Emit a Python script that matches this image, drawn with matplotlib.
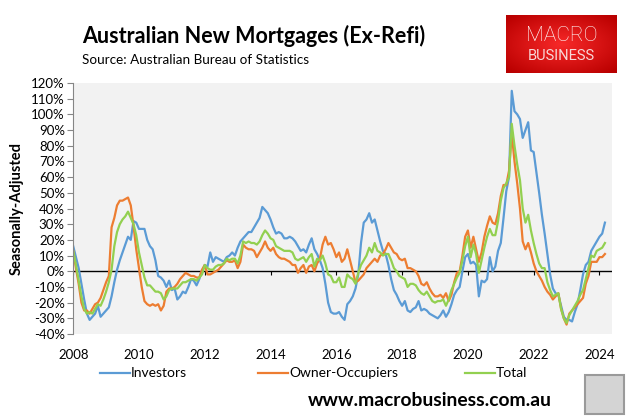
import numpy as np
import matplotlib
matplotlib.use('Agg')
import matplotlib.pyplot as plt
from matplotlib.patches import Rectangle
from matplotlib.lines import Line2D

# annual growth, %, monthly from Jan 2008 to Mar 2024
investors = [
    16, 9, 2, -8, -18, -27, -31, -29, -27, -22, -29, -27,
    -25, -23, -16, -7, 1, 7, 12, 17, 22, 20, 32, 31,
    27, 27, 27, 20, 16, 14, 7, -3, -4, -6, -10, -6,
    -12, -11, -18, -16, -13, -14, -10, -5, -6, -9, -5, 0,
    4, 3, 12, 6, 9, 8, 7, 6, 9, 10, 12, 10,
    15, 19, 21, 23, 25, 25, 28, 31, 34, 41, 39, 37,
    33, 28, 24, 25, 24, 21, 21, 22, 21, 19, 16, 13,
    14, 12, 17, 21, 14, 11, 7, 2, -8, -20, -26, -27,
    -27, -26, -29, -31, -21, -19, -16, -11, -2, 18, 31, 33,
    37, 31, 33, 26, 19, 13, 11, 4, -5, -12, -15, -19,
    -22, -19, -25, -26, -24, -23, -19, -25, -24, -25, -27, -28,
    -29, -30, -28, -25, -29, -26, -21, -15, -12, -10, 0, 9,
    11, 5, 6, 4, -16, -6, -7, -5, 9, 0, 3, 13,
    18, 34, 51, 60, 115, 102, 100, 97, 85, 90, 95, 77,
    76, 63, 50, 36, 24, 11, -2, -11, -14, -15, -22, -29,
    -31, -31, -32, -26, -21, -12, -2, 4, 6, 13, 16, 19,
    22, 24, 31]

owner_occupiers = [
    13, 2, -8, -20, -25, -25, -27, -24, -21, -20, -17, -12,
    -7, -3, 28, 34, 42, 45, 45, 46, 47, 42, 29, 14,
    2, -10, -19, -21, -22, -21, -22, -21, -25, -22, -13, -11,
    -11, -10, -8, -5, -3, -1, -2, -3, -3, -4, -4, 1,
    4, -2, -2, -1, 0, 1, 3, 5, 7, 6, 6, 7,
    2, 6, 17, 15, 14, 14, 13, 9, 12, 15, 19, 15,
    13, 15, 11, 9, 8, 8, 7, 6, 4, 4, -1, 2,
    4, -1, 3, 4, 0, 5, 8, 17, 22, 17, 18, 14,
    9, 12, 6, 8, 14, 7, 0, -7, -6, -4, -2, 2,
    4, 6, 8, 6, 10, 11, 14, 18, 15, 12, 11, 8,
    7, 8, 2, 2, 1, 0, -3, -8, -9, -7, -11, -14,
    -16, -16, -15, -17, -14, -19, -15, -7, -1, 0, 10, 22,
    26, 15, 22, 14, 6, 12, 22, 29, 35, 31, 30, 37,
    48, 55, 55, 64, 88, 70, 56, 40, 19, 14, 18, 12,
    5, 0, -3, -6, -10, -13, -15, -18, -16, -14, -24, -30,
    -34, -27, -25, -23, -21, -19, -17, -8, -3, 6, 6, 6,
    9, 9, 11]

total = [
    13, 4, -6, -16, -24, -27, -26, -27, -24, -21, -22, -18,
    -13, -7, 1, 16, 25, 30, 33, 35, 38, 34, 30, 23,
    12, 4, -4, -9, -9, -11, -13, -13, -14, -18, -16, -12,
    -11, -11, -11, -9, -7, -7, -6, -5, -5, -6, -4, -2,
    4, 2, 1, 1, 3, 4, 4, 5, 8, 7, 8, 8,
    5, 10, 19, 18, 19, 18, 18, 17, 19, 23, 26, 24,
    21, 20, 16, 15, 14, 13, 13, 13, 12, 8, 7, 8,
    9, 6, 9, 11, 3, 8, 7, 10, 5, -2, -3, -7,
    -7, -4, -10, -10, -2, -4, -5, -8, -1, 4, 7, 10,
    15, 12, 18, 13, 12, 10, 11, 11, 7, 2, 0, -3,
    -4, -5, -10, -8, -8, -9, -12, -14, -15, -13, -16, -19,
    -20, -19, -19, -18, -22, -18, -12, -8, -4, -1, 7, 16,
    22, 9, 17, 11, -1, 7, 15, 22, 27, 23, 23, 32,
    45, 53, 56, 60, 94, 80, 68, 58, 40, 31, 36, 26,
    18, 11, 5, 2, 2, -7, -12, -16, -15, -14, -24, -30,
    -33, -28, -25, -22, -19, -15, -12, -5, 2, 10, 9, 13,
    14, 15, 18]

years = [str(y) for y in range(2008, 2025, 2)]
yticks = list(range(-40, 121, 10))

plt.rcParams['font.family'] = ['Lato', 'DejaVu Sans']

W, H = 631, 417
fig = plt.figure(figsize=(W / 100, H / 100), dpi=100)
ax = fig.add_axes([0.116, 0.199, 0.854, 0.602])
ax.set_facecolor('#f2f2f2')

colors = ['#5b9bd5', '#ed7d31', '#92d050']
names = ['Investors', 'Owner-Occupiers', 'Total']
m = np.arange(len(investors))
for s, c in zip([investors, owner_occupiers, total], colors):
    ax.plot(m, s, color=c, lw=1.6)

ax.axhline(0, color='black', lw=1.0, zorder=1)
xt = np.arange(0, len(investors), 24)
ax.vlines(xt, -2.6, 0, color='black', lw=0.8, zorder=1)

ax.set_xlim(0, 196.6)
ax.set_ylim(-40, 120)
ax.set_xticks(xt)
ax.set_xticklabels(years, fontsize=9.5)
ax.tick_params(axis='x', length=0, pad=11)
ax.set_yticks(yticks)
ax.set_yticklabels([f'{v}%' for v in yticks], fontsize=9.5)
ax.tick_params(axis='y', length=4, color='#868686', direction='out', pad=2)
for s in ['top', 'right', 'bottom']:
    ax.spines[s].set_visible(False)
ax.spines['left'].set_color('#868686')

ax.set_ylabel('Seasonally-Adjusted', fontsize=10.5, fontweight='bold', labelpad=5)

# legend, laid out as in the original
leg_x = [100, 258, 465]
for x0, c, n in zip(leg_x, colors, names):
    fig.add_artist(Line2D([x0 / W, (x0 + 30) / W], [1 - 373 / H] * 2, color=c, lw=1.6))
    fig.text((x0 + 31) / W, 1 - 373 / H, n, fontsize=10, va='center', ha='left')

fig.text(82 / W, 1 - 36 / H, 'Australian New Mortgages (Ex-Refi)', fontsize=15.5,
         fontweight='bold', va='center', ha='left')
fig.text(82 / W, 1 - 60 / H, 'Source: Australian Bureau of Statistics', fontsize=9.7,
         va='center', ha='left')

# logo box with a soft red gradient
lax = fig.add_axes([506 / W, 1 - 73 / H, 111 / W, 58 / H])
gx = np.linspace(-1, 1, 120)
gy = np.linspace(-1, 1, 60)
gr = np.sqrt(gx[None, :] ** 2 + gy[:, None] ** 2)
img = np.zeros((60, 120, 3))
img[..., 0] = 0.97 - 0.18 * gr
img[..., 1] = 0.16 - 0.12 * gr
img[..., 2] = 0.16 - 0.12 * gr
lax.imshow(np.clip(img, 0, 1), aspect='auto', extent=[0, 1, 0, 1])
lax.set_axis_off()
lax.text(0.5, 0.64, 'MACRO', color='white', fontsize=15, ha='center', va='center',
         family='Roboto', fontweight='light')
lax.text(0.5, 0.3, 'BUSINESS', color='#f8d8d8', fontsize=10.5, ha='center', va='center',
         family='Roboto')

fig.text(430 / W, 1 - 400 / H, 'www.macrobusiness.com.au', fontsize=13.9,
         fontweight='bold', ha='center', va='center')

# wolf badge
fig.patches.append(Rectangle((585 / W, 1 - 414 / H), 39 / W, 39 / H,
                             transform=fig.transFigure, facecolor='#d4d4d4',
                             edgecolor='#9a9a9a', lw=1.5))

fig.savefig('out.png', dpi=100)
